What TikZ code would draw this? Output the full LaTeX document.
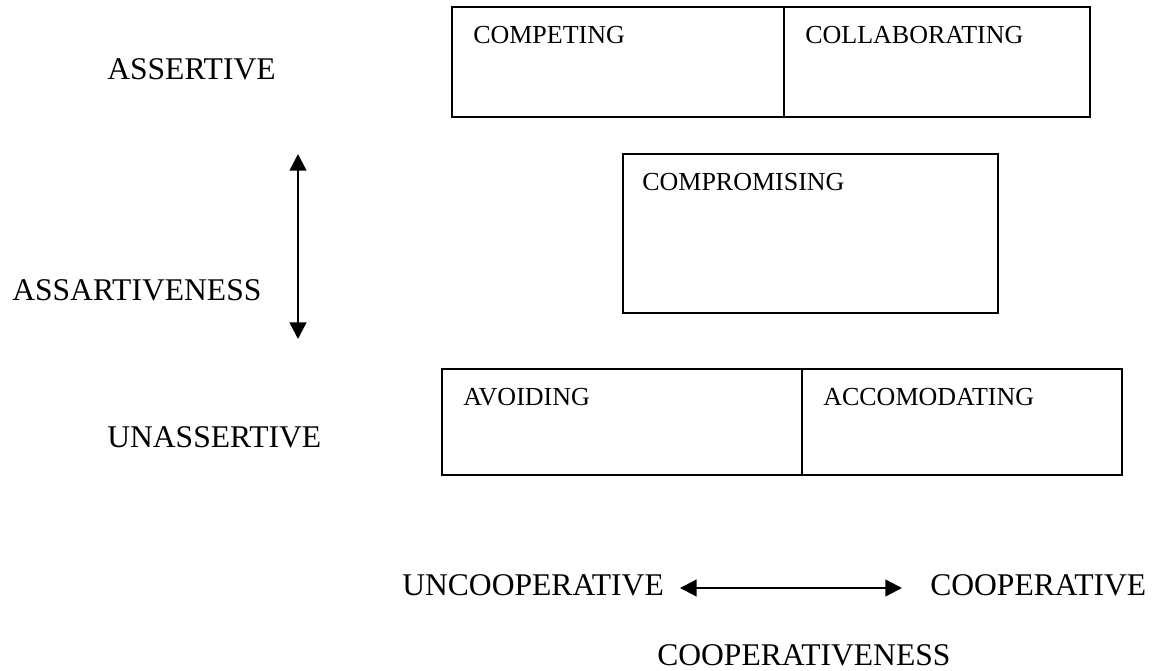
\documentclass[tikz,border=0pt]{standalone}
\usepackage{fontspec}
\setmainfont{Liberation Serif}
\usetikzlibrary{arrows.meta}
\def\upx{0.75pt}
\begin{document}
\begin{tikzpicture}[x=0.75pt,y=-0.75pt,
  box/.style={draw=black, line width=1.5pt, inner sep=0pt, minimum height=110*\upx},
  boxtext/.style={anchor=base west, inner sep=0pt, font=\fontsize{19.5}{23}\selectfont},
  outertext/.style={anchor=base west, inner sep=0pt, font=\fontsize{23.7}{28}\selectfont},
  dblarrow/.style={line width=1.8pt, {Triangle[length=12.5pt,width=12.5pt]}-{Triangle[length=12.5pt,width=12.5pt]}}]
\useasboundingbox (0,0) rectangle (1160,671);
% boxes
\node[box, minimum width=332*\upx, minimum height=110*\upx] (competing) at (618,62) {};
\node[box, minimum width=306*\upx, minimum height=110*\upx] (collaborating) at (937,62) {};
\node[box, minimum width=375*\upx, minimum height=159*\upx] (compromising) at (810.5,233.5) {};
\node[box, minimum width=360*\upx, minimum height=106*\upx] (avoiding) at (622,422) {};
\node[box, minimum width=320*\upx, minimum height=106*\upx] (accomodating) at (962,422) {};
% box labels
\node[boxtext] (tcompeting) at (473,43) {COMPETING};
\node[boxtext] (tcollaborating) at (805,43) {COLLABORATING};
\node[boxtext] (tcompromising) at (642,190) {COMPROMISING};
\node[boxtext] (tavoiding) at (463,405) {AVOIDING};
\node[boxtext] (taccomodating) at (823,405) {ACCOMODATING};
% outer labels
\node[outertext] (assertive) at (107,79) {ASSERTIVE};
\node[outertext] (assartiveness) at (12,300) {ASSARTIVENESS};
\node[outertext] (unassertive) at (107,447) {UNASSERTIVE};
\node[outertext] (uncooperative) at (402,595) {UNCOOPERATIVE};
\node[outertext] (cooperative) at (930,595) {COOPERATIVE};
\node[outertext] (cooperativeness) at (657,665) {COOPERATIVENESS};
% arrows
\coordinate (vtop) at (298,154);
\coordinate (vbot) at (298,339);
\coordinate (hleft) at (680,588);
\coordinate (hright) at (902,588);
\draw[dblarrow] (vtop) -- (vbot);
\draw[dblarrow] (hleft) -- (hright);
\end{tikzpicture}
\end{document}
